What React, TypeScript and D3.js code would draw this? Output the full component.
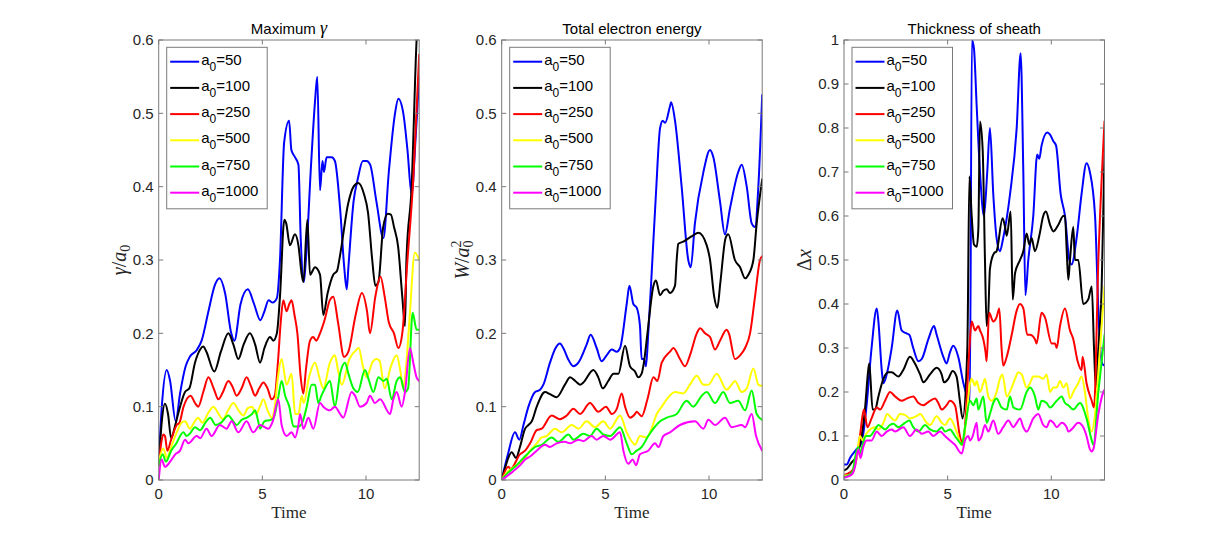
import React from 'react';
import * as d3 from 'd3';

type Pt = [number, number];

// ---------- data ----------
const T_MAX = 12.566;
const X_TICKS = [0, 5, 10];
const Y_TICKS_06 = [0, 0.1, 0.2, 0.3, 0.4, 0.5, 0.6];
const Y_TICKS_1 = [0, 0.1, 0.2, 0.3, 0.4, 0.5, 0.6, 0.7, 0.8, 0.9, 1];
const A0_LABELS = ['50', '100', '250', '500', '750', '1000'];
const COLORS = ['#0000ff', '#000000', '#ff0000', '#ffff00', '#00ff00', '#ff00ff'];
const TITLES = ['Maximum ', 'Total electron energy', 'Thickness of sheath'];

// Panel 1: maximum gamma / a0
const gamma50: Pt[] = [[0,0.023],[0.15,0.1],[0.39,0.15],[0.55,0.135],[0.82,0.08],[1.03,0.118],[1.3,0.155],[1.5,0.168],[1.83,0.177],[2.07,0.19],[2.4,0.23],[2.7,0.265],[2.93,0.275],[3.2,0.255],[3.5,0.2],[3.65,0.19],[3.95,0.24],[4.3,0.26],[4.6,0.24],[4.9,0.218],[5.1,0.23],[5.3,0.245],[5.5,0.242],[5.7,0.248],[5.85,0.3],[6.05,0.46],[6.29,0.49],[6.4,0.45],[6.58,0.44],[6.74,0.43],[6.85,0.33],[7.0,0.27],[7.1,0.3],[7.35,0.43],[7.55,0.52],[7.65,0.55],[7.78,0.395],[7.9,0.435],[7.97,0.42],[8.1,0.44],[8.34,0.44],[8.5,0.435],[8.75,0.37],[8.95,0.29],[9.07,0.26],[9.15,0.29],[9.4,0.38],[9.6,0.41],[9.85,0.435],[10.03,0.435],[10.2,0.43],[10.5,0.38],[10.84,0.33],[11.1,0.42],[11.4,0.5],[11.56,0.52],[11.8,0.5],[12.0,0.45],[12.2,0.39],[12.4,0.47],[12.566,0.55]];
const gamma100: Pt[] = [[0,0.02],[0.15,0.08],[0.3,0.104],[0.45,0.09],[0.6,0.057],[0.8,0.075],[1.03,0.1],[1.27,0.12],[1.48,0.125],[1.75,0.16],[2.0,0.178],[2.15,0.182],[2.3,0.175],[2.68,0.148],[3.0,0.175],[3.36,0.2],[3.6,0.185],[3.84,0.165],[4.1,0.185],[4.4,0.2],[4.65,0.185],[4.89,0.16],[5.1,0.18],[5.37,0.195],[5.53,0.19],[5.7,0.2],[5.85,0.25],[6.06,0.355],[6.15,0.35],[6.33,0.32],[6.57,0.335],[6.74,0.32],[6.9,0.28],[6.98,0.27],[7.17,0.355],[7.3,0.28],[7.54,0.29],[7.78,0.28],[7.94,0.225],[8.15,0.255],[8.42,0.28],[8.6,0.285],[8.74,0.305],[9.14,0.377],[9.4,0.4],[9.63,0.405],[9.9,0.39],[10.1,0.364],[10.3,0.3],[10.45,0.265],[10.6,0.27],[10.83,0.345],[11.05,0.363],[11.2,0.362],[11.35,0.345],[11.55,0.318],[11.75,0.25],[11.88,0.21],[11.95,0.3],[12.2,0.4],[12.44,0.6],[12.566,0.66]];
const gamma250: Pt[] = [[0,0.02],[0.12,0.05],[0.22,0.062],[0.3,0.06],[0.42,0.04],[0.6,0.055],[0.87,0.075],[1.0,0.078],[1.2,0.1],[1.54,0.115],[1.75,0.105],[1.91,0.1],[2.15,0.12],[2.4,0.14],[2.65,0.125],[2.88,0.11],[3.1,0.12],[3.36,0.135],[3.55,0.128],[3.76,0.115],[4.0,0.125],[4.24,0.14],[4.45,0.128],[4.65,0.115],[4.85,0.125],[5.05,0.133],[5.25,0.125],[5.45,0.11],[5.6,0.115],[5.75,0.16],[5.9,0.22],[6.01,0.245],[6.17,0.23],[6.3,0.24],[6.41,0.245],[6.55,0.225],[6.69,0.2],[6.85,0.14],[6.98,0.118],[7.1,0.15],[7.3,0.19],[7.45,0.195],[7.6,0.19],[7.78,0.2],[8.02,0.22],[8.25,0.245],[8.42,0.25],[8.65,0.215],[8.94,0.168],[9.15,0.175],[9.5,0.225],[9.8,0.255],[10.05,0.23],[10.19,0.2],[10.45,0.25],[10.7,0.277],[10.9,0.25],[11.1,0.215],[11.35,0.2],[11.56,0.18],[11.75,0.2],[12.0,0.3],[12.28,0.41],[12.566,0.58]];
const gamma500: Pt[] = [[0,0.025],[0.22,0.043],[0.4,0.03],[0.6,0.045],[0.87,0.065],[1.1,0.078],[1.27,0.08],[1.5,0.07],[1.7,0.078],[1.9,0.085],[2.1,0.078],[2.4,0.092],[2.64,0.1],[2.85,0.092],[3.1,0.083],[3.35,0.095],[3.6,0.105],[3.85,0.095],[4.08,0.088],[4.3,0.098],[4.5,0.1],[4.7,0.09],[4.88,0.1],[5.05,0.11],[5.25,0.095],[5.45,0.085],[5.6,0.1],[5.75,0.14],[5.93,0.165],[6.17,0.13],[6.41,0.145],[6.58,0.09],[6.74,0.09],[6.9,0.115],[7.0,0.105],[7.25,0.14],[7.54,0.16],[7.75,0.14],[7.94,0.125],[8.26,0.16],[8.5,0.17],[8.65,0.15],[8.83,0.13],[9.2,0.165],[9.55,0.178],[9.65,0.18],[9.85,0.155],[10.03,0.14],[10.3,0.16],[10.5,0.165],[10.65,0.163],[10.9,0.125],[11.2,0.155],[11.48,0.17],[11.65,0.15],[11.8,0.125],[11.95,0.16],[12.1,0.22],[12.36,0.31],[12.566,0.3]];
const gamma750: Pt[] = [[0,0.02],[0.19,0.035],[0.35,0.025],[0.6,0.04],[0.85,0.05],[1.19,0.065],[1.35,0.06],[1.55,0.065],[1.75,0.072],[2.0,0.068],[2.25,0.078],[2.48,0.085],[2.75,0.075],[3.0,0.078],[3.36,0.088],[3.55,0.082],[3.76,0.075],[4.0,0.082],[4.25,0.085],[4.5,0.09],[4.65,0.095],[4.8,0.08],[4.89,0.07],[5.1,0.08],[5.4,0.082],[5.55,0.085],[5.75,0.11],[5.93,0.135],[6.1,0.115],[6.3,0.1],[6.5,0.073],[6.75,0.073],[6.95,0.08],[7.14,0.1],[7.38,0.13],[7.54,0.13],[7.7,0.105],[7.85,0.115],[8.02,0.125],[8.26,0.135],[8.5,0.1],[8.75,0.145],[8.99,0.16],[9.15,0.145],[9.39,0.125],[9.6,0.12],[9.95,0.15],[10.15,0.135],[10.35,0.12],[10.6,0.14],[10.84,0.135],[11.0,0.138],[11.24,0.11],[11.48,0.135],[11.65,0.14],[11.88,0.12],[12.03,0.125],[12.25,0.228],[12.44,0.205],[12.566,0.205]];
const gamma1000: Pt[] = [[0,0.0],[0.14,0.028],[0.3,0.018],[0.55,0.025],[0.8,0.035],[1.03,0.04],[1.27,0.055],[1.43,0.05],[1.83,0.06],[2.0,0.057],[2.31,0.07],[2.55,0.06],[2.95,0.075],[3.27,0.07],[3.52,0.08],[3.84,0.065],[4.24,0.08],[4.56,0.065],[4.89,0.075],[5.29,0.07],[5.5,0.08],[5.77,0.11],[5.93,0.075],[6.17,0.06],[6.41,0.065],[6.58,0.058],[6.74,0.075],[6.82,0.09],[6.98,0.07],[7.22,0.085],[7.46,0.07],[7.78,0.105],[7.94,0.1],[8.26,0.095],[8.5,0.1],[8.75,0.09],[8.9,0.085],[9.31,0.12],[9.47,0.115],[9.71,0.1],[10.03,0.105],[10.19,0.115],[10.43,0.105],[10.68,0.11],[11.16,0.09],[11.32,0.11],[11.48,0.12],[11.72,0.1],[11.88,0.12],[12.12,0.18],[12.28,0.16],[12.44,0.14],[12.566,0.135]];

// Panel 2: total electron energy W / a0^2
const energy50: Pt[] = [[0,0],[0.3,0.035],[0.64,0.065],[0.85,0.055],[1.05,0.075],[1.29,0.1],[1.61,0.12],[1.85,0.123],[2.01,0.13],[2.33,0.16],[2.6,0.18],[2.81,0.186],[2.97,0.18],[3.2,0.165],[3.46,0.155],[3.7,0.16],[4.1,0.185],[4.29,0.198],[4.58,0.18],[4.82,0.162],[5.06,0.17],[5.31,0.178],[5.55,0.175],[5.71,0.18],[6.03,0.24],[6.16,0.265],[6.35,0.24],[6.51,0.235],[6.67,0.21],[6.75,0.165],[6.86,0.165],[6.96,0.155],[7.07,0.2],[7.23,0.28],[7.44,0.39],[7.64,0.48],[7.77,0.49],[7.88,0.487],[8.12,0.51],[8.17,0.515],[8.36,0.49],[8.68,0.4],[9.0,0.3],[9.12,0.29],[9.32,0.35],[9.73,0.42],[10.05,0.45],[10.21,0.44],[10.53,0.38],[10.77,0.335],[11.01,0.37],[11.41,0.42],[11.58,0.43],[11.82,0.4],[12.06,0.35],[12.22,0.345],[12.38,0.4],[12.566,0.525]];
const energy100: Pt[] = [[0,0],[0.2,0.02],[0.48,0.038],[0.69,0.03],[0.88,0.045],[1.13,0.07],[1.29,0.075],[1.45,0.08],[1.69,0.1],[2.09,0.12],[2.33,0.117],[2.65,0.113],[3.05,0.13],[3.3,0.14],[3.55,0.135],[3.78,0.13],[3.94,0.133],[4.42,0.15],[4.66,0.14],[4.87,0.125],[5.14,0.135],[5.39,0.145],[5.63,0.145],[5.95,0.183],[6.19,0.155],[6.43,0.148],[6.59,0.14],[6.75,0.145],[6.86,0.16],[7.03,0.2],[7.32,0.265],[7.44,0.272],[7.64,0.252],[7.8,0.258],[7.96,0.26],[8.12,0.255],[8.36,0.265],[8.44,0.3],[8.52,0.322],[8.76,0.325],[9.2,0.333],[9.49,0.337],[9.89,0.32],[10.05,0.3],[10.25,0.25],[10.4,0.235],[10.55,0.27],[10.8,0.33],[10.93,0.335],[11.25,0.3],[11.5,0.29],[11.74,0.275],[11.9,0.28],[12.14,0.3],[12.3,0.35],[12.566,0.41]];
const energy250: Pt[] = [[0,0],[0.32,0.018],[0.43,0.015],[0.88,0.035],[1.13,0.04],[1.37,0.05],[1.69,0.068],[1.93,0.07],[2.41,0.088],[2.81,0.083],[3.14,0.088],[3.46,0.097],[3.78,0.09],[4.26,0.105],[4.66,0.093],[5.03,0.1],[5.31,0.09],[5.55,0.097],[5.79,0.118],[5.95,0.1],[6.19,0.085],[6.43,0.09],[6.51,0.093],[6.75,0.087],[7.03,0.11],[7.32,0.14],[7.51,0.135],[7.72,0.16],[8.12,0.175],[8.28,0.18],[8.6,0.165],[8.84,0.155],[9.08,0.17],[9.41,0.2],[9.57,0.207],[9.81,0.2],[10.05,0.195],[10.29,0.178],[10.53,0.19],[10.85,0.205],[10.96,0.2],[11.25,0.165],[11.5,0.17],[11.74,0.18],[11.98,0.2],[12.22,0.25],[12.46,0.3],[12.566,0.305]];
const energy500: Pt[] = [[0,0],[0.24,0.01],[0.72,0.02],[1.13,0.03],[1.37,0.04],[1.69,0.05],[1.93,0.058],[2.17,0.06],[2.57,0.07],[2.89,0.065],[3.38,0.075],[3.7,0.07],[4.1,0.08],[4.5,0.072],[4.9,0.08],[5.23,0.07],[5.71,0.088],[6.03,0.065],[6.35,0.05],[6.43,0.048],[6.67,0.06],[6.99,0.058],[7.23,0.07],[7.48,0.09],[7.72,0.1],[7.96,0.11],[8.36,0.12],[8.76,0.118],[9.08,0.13],[9.41,0.142],[9.73,0.13],[9.97,0.13],[10.37,0.145],[10.85,0.123],[11.09,0.13],[11.25,0.135],[11.58,0.12],[11.82,0.125],[12.14,0.152],[12.38,0.13],[12.566,0.128]];
const energy750: Pt[] = [[0,0],[0.24,0.008],[0.64,0.018],[1.05,0.03],[1.29,0.037],[1.61,0.045],[1.93,0.048],[2.41,0.058],[2.73,0.052],[3.22,0.062],[3.46,0.055],[3.94,0.063],[4.26,0.06],[4.58,0.07],[4.9,0.062],[5.23,0.06],[5.71,0.072],[6.03,0.05],[6.27,0.035],[6.51,0.04],[6.75,0.045],[7.07,0.06],[7.32,0.07],[7.64,0.08],[7.96,0.085],[8.44,0.09],[8.92,0.108],[9.24,0.1],[9.65,0.115],[9.89,0.12],[10.29,0.105],[10.69,0.12],[11.01,0.105],[11.41,0.108],[11.74,0.095],[12.06,0.122],[12.3,0.09],[12.566,0.082]];
const energy1000: Pt[] = [[0,0],[0.24,0.005],[0.56,0.012],[0.88,0.02],[1.13,0.028],[1.37,0.032],[1.69,0.04],[2.09,0.048],[2.33,0.045],[2.65,0.05],[3.05,0.052],[3.3,0.05],[3.7,0.055],[3.94,0.053],[4.34,0.06],[4.58,0.055],[4.9,0.06],[5.23,0.055],[5.71,0.065],[5.87,0.04],[6.11,0.022],[6.32,0.028],[6.48,0.02],[6.67,0.035],[7.07,0.04],[7.4,0.05],[7.56,0.045],[7.8,0.06],[8.12,0.065],[8.6,0.075],[9.32,0.08],[9.73,0.07],[9.97,0.082],[10.29,0.075],[10.77,0.085],[11.09,0.072],[11.58,0.075],[11.74,0.072],[12.06,0.09],[12.27,0.06],[12.566,0.04]];

// Panel 3: thickness of sheath
const sheath50: Pt[] = [[0,0.035],[0.13,0.035],[0.29,0.05],[0.61,0.07],[0.85,0.085],[1.09,0.17],[1.33,0.3],[1.58,0.39],[1.66,0.36],[1.82,0.25],[1.9,0.22],[2.06,0.24],[2.3,0.3],[2.57,0.385],[2.78,0.34],[3.02,0.333],[3.15,0.33],[3.34,0.3],[3.59,0.27],[3.75,0.275],[4.07,0.32],[4.34,0.35],[4.47,0.33],[4.79,0.28],[4.95,0.265],[5.11,0.29],[5.27,0.305],[5.51,0.28],[5.76,0.22],[5.95,0.19],[6.07,0.18],[6.17,1.0],[6.27,0.98],[6.4,0.85],[6.56,0.7],[6.75,0.6],[6.91,0.7],[7.04,0.8],[7.2,0.65],[7.36,0.55],[7.52,0.52],[7.68,0.55],[8.01,0.65],[8.33,0.8],[8.52,0.97],[8.65,0.7],[8.75,0.42],[8.89,0.5],[9.13,0.6],[9.32,0.74],[9.42,0.73],[9.53,0.76],[9.81,0.79],[9.94,0.785],[10.1,0.77],[10.23,0.76],[10.45,0.65],[10.66,0.6],[10.87,0.5],[10.98,0.49],[11.22,0.55],[11.46,0.65],[11.7,0.72],[11.86,0.7],[12.11,0.6],[12.3,0.35],[12.45,0.265],[12.566,0.26]];
const sheath100: Pt[] = [[0,0.022],[0.13,0.025],[0.37,0.04],[0.61,0.055],[0.77,0.08],[0.85,0.1],[1.01,0.16],[1.17,0.25],[1.22,0.265],[1.38,0.16],[1.5,0.16],[1.66,0.19],[1.9,0.23],[2.14,0.245],[2.3,0.245],[2.62,0.235],[2.86,0.25],[3.18,0.28],[3.42,0.265],[3.67,0.24],[3.83,0.222],[4.15,0.24],[4.47,0.255],[4.71,0.24],[4.82,0.222],[5.03,0.23],[5.24,0.248],[5.43,0.235],[5.59,0.18],[5.72,0.14],[5.95,0.3],[6.05,0.69],[6.16,0.6],[6.27,0.535],[6.4,0.53],[6.48,0.57],[6.56,0.815],[6.69,0.75],[6.8,0.5],[6.88,0.35],[6.96,0.38],[7.04,0.48],[7.23,0.515],[7.36,0.52],[7.65,0.595],[7.77,0.575],[7.85,0.555],[8.04,0.61],[8.14,0.41],[8.25,0.47],[8.49,0.5],[8.65,0.52],[8.81,0.56],[8.94,0.535],[9.05,0.55],[9.21,0.52],[9.42,0.555],[9.61,0.6],[9.74,0.61],[9.94,0.58],[10.1,0.565],[10.34,0.58],[10.58,0.6],[10.66,0.6],[10.74,0.525],[10.82,0.455],[10.9,0.5],[11.06,0.575],[11.14,0.5],[11.3,0.5],[11.54,0.4],[11.78,0.41],[11.95,0.44],[12.06,0.3],[12.15,0.21],[12.27,0.3],[12.43,0.44],[12.566,0.74]];
const sheath250: Pt[] = [[0,0.012],[0.21,0.015],[0.45,0.025],[0.61,0.05],[0.77,0.1],[0.96,0.16],[1.13,0.12],[1.33,0.14],[1.58,0.165],[1.74,0.16],[1.98,0.18],[2.22,0.2],[2.46,0.19],[2.78,0.18],[3.02,0.185],[3.34,0.19],[3.59,0.175],[3.83,0.17],[4.15,0.18],[4.39,0.185],[4.55,0.175],[4.71,0.16],[4.95,0.17],[5.11,0.18],[5.35,0.17],[5.59,0.1],[5.72,0.08],[5.88,0.15],[6.05,0.3],[6.16,0.36],[6.32,0.34],[6.48,0.35],[6.56,0.34],[6.72,0.32],[6.83,0.29],[6.88,0.27],[7.0,0.38],[7.2,0.36],[7.36,0.37],[7.49,0.39],[7.6,0.3],[7.68,0.26],[7.85,0.28],[8.09,0.33],[8.33,0.385],[8.49,0.4],[8.65,0.39],[8.84,0.33],[8.97,0.33],[9.21,0.32],[9.29,0.31],[9.53,0.38],[9.69,0.37],[10.02,0.31],[10.18,0.31],[10.26,0.3],[10.42,0.35],[10.66,0.39],[10.9,0.34],[11.06,0.32],[11.27,0.27],[11.46,0.25],[11.51,0.28],[11.7,0.22],[11.95,0.18],[12.06,0.165],[12.27,0.5],[12.566,0.815]];
const sheath500: Pt[] = [[0,0.01],[0.21,0.01],[0.45,0.02],[0.61,0.05],[0.77,0.1],[0.9,0.09],[1.01,0.1],[1.25,0.115],[1.5,0.12],[1.66,0.115],[1.9,0.13],[2.09,0.15],[2.3,0.14],[2.46,0.135],[2.7,0.15],[2.94,0.148],[3.18,0.14],[3.5,0.145],[3.67,0.15],[3.99,0.13],[4.15,0.125],[4.47,0.145],[4.71,0.13],[4.87,0.125],[5.11,0.14],[5.43,0.11],[5.68,0.08],[5.88,0.13],[6.08,0.22],[6.16,0.23],[6.32,0.215],[6.4,0.225],[6.56,0.2],[6.72,0.22],[6.8,0.23],[6.96,0.19],[7.12,0.18],[7.36,0.2],[7.52,0.23],[7.64,0.24],[7.85,0.19],[8.09,0.21],[8.25,0.23],[8.41,0.245],[8.57,0.24],[8.81,0.21],[8.97,0.22],[9.13,0.235],[9.37,0.235],[9.61,0.23],[9.77,0.24],[9.94,0.2],[10.1,0.21],[10.26,0.21],[10.42,0.225],[10.58,0.21],[10.74,0.22],[10.9,0.185],[11.06,0.2],[11.3,0.22],[11.46,0.235],[11.62,0.2],[11.78,0.14],[11.95,0.11],[12.11,0.15],[12.35,0.3],[12.566,0.44]];
const sheath750: Pt[] = [[0,0.007],[0.21,0.01],[0.42,0.02],[0.53,0.05],[0.69,0.075],[0.77,0.06],[0.9,0.08],[1.06,0.1],[1.25,0.1],[1.5,0.115],[1.66,0.125],[1.82,0.12],[1.98,0.115],[2.22,0.125],[2.38,0.128],[2.62,0.12],[2.94,0.13],[3.15,0.135],[3.34,0.12],[3.59,0.11],[3.91,0.125],[4.15,0.115],[4.47,0.11],[4.71,0.12],[4.87,0.11],[5.11,0.115],[5.35,0.1],[5.59,0.085],[5.68,0.08],[5.84,0.12],[6.08,0.18],[6.24,0.17],[6.4,0.185],[6.48,0.16],[6.72,0.19],[6.88,0.13],[7.04,0.15],[7.2,0.175],[7.36,0.185],[7.6,0.165],[7.85,0.16],[8.01,0.19],[8.17,0.165],[8.49,0.16],[8.81,0.2],[8.97,0.21],[9.21,0.19],[9.37,0.16],[9.53,0.18],[9.77,0.175],[9.94,0.165],[10.26,0.18],[10.5,0.19],[10.66,0.175],[10.82,0.17],[11.06,0.16],[11.38,0.175],[11.7,0.14],[11.95,0.09],[12.03,0.08],[12.27,0.2],[12.43,0.27],[12.566,0.33]];
const sheath1000: Pt[] = [[0,0.005],[0.21,0.008],[0.42,0.015],[0.53,0.03],[0.69,0.07],[0.8,0.05],[0.93,0.075],[1.09,0.09],[1.33,0.09],[1.58,0.11],[1.82,0.1],[2.06,0.11],[2.3,0.115],[2.46,0.11],[2.86,0.12],[3.18,0.1],[3.5,0.115],[3.75,0.105],[4.07,0.11],[4.31,0.1],[4.63,0.11],[4.87,0.1],[5.11,0.09],[5.35,0.08],[5.68,0.06],[5.84,0.09],[6.0,0.1],[6.08,0.09],[6.21,0.1],[6.4,0.13],[6.48,0.09],[6.64,0.1],[6.8,0.125],[6.96,0.11],[7.2,0.135],[7.44,0.105],[7.68,0.12],[7.93,0.135],[8.17,0.12],[8.33,0.13],[8.49,0.14],[8.65,0.12],[8.81,0.11],[9.13,0.14],[9.37,0.15],[9.61,0.125],[9.77,0.12],[9.94,0.135],[10.1,0.13],[10.26,0.12],[10.5,0.13],[10.74,0.12],[10.82,0.11],[10.98,0.115],[11.3,0.13],[11.54,0.12],[11.7,0.1],[11.86,0.07],[11.95,0.065],[12.03,0.07],[12.27,0.15],[12.51,0.2],[12.566,0.205]];

const GAMMA_SERIES = [gamma50, gamma100, gamma250, gamma500, gamma750, gamma1000];
const ENERGY_SERIES = [energy50, energy100, energy250, energy500, energy750, energy1000];
const SHEATH_SERIES = [sheath50, sheath100, sheath250, sheath500, sheath750, sheath1000];

// ---------- layout ----------
const W = 1221;
const H = 540;
const PANEL_LEFTS = [158.7, 501.7, 844];
const PANEL_W = 260.5;
const TOP = 40;
const PANEL_H = 440;
const SANS = "'Liberation Sans', Arial, Helvetica, sans-serif";
const SERIF = "'Liberation Serif', 'Times New Roman', serif";
const AXIS_COLOR = '#7a7a7a';
const TEXT_COLOR = '#262626';
const TICK_LEN = 4.5;

function fmt(v: number): string {
  return String(+v.toFixed(1));
}

function YLabel({ idx, x, y }: { idx: number; x: number; y: number }) {
  const common = {
    transform: `translate(${x},${y}) rotate(-90)`,
    textAnchor: 'middle' as const,
    fontFamily: SERIF,
    fontSize: 20,
    fill: TEXT_COLOR,
  };
  if (idx === 0) {
    return (
      <text {...common}>
        <tspan fontStyle="italic">γ</tspan>
        <tspan>/</tspan>
        <tspan fontStyle="italic">a</tspan>
        <tspan fontSize={14} dy={4}>0</tspan>
      </text>
    );
  }
  if (idx === 1) {
    return (
      <text {...common}>
        <tspan fontStyle="italic">W</tspan>
        <tspan>/</tspan>
        <tspan fontStyle="italic">a</tspan>
        <tspan fontSize={14} dy={4}>0</tspan>
        <tspan fontSize={14} dx={-7} dy={-12}>2</tspan>
      </text>
    );
  }
  return (
    <text {...common}>
      <tspan>Δ</tspan>
      <tspan fontStyle="italic">x</tspan>
    </text>
  );
}

function Panel({ idx, series, yMax, yTicks }: { idx: number; series: Pt[][]; yMax: number; yTicks: number[] }) {
  const left = PANEL_LEFTS[idx];
  const right = left + PANEL_W;
  const bottom = TOP + PANEL_H;
  const x = d3.scaleLinear().domain([0, T_MAX]).range([left, right]);
  const y = d3.scaleLinear().domain([0, yMax]).range([bottom, TOP]);
  const line = d3
    .line<Pt>()
    .x((d) => x(d[0]))
    .y((d) => y(d[1]))
    .curve(d3.curveMonotoneX);
  const clipId = `clip-${idx}`;
  const cx = (left + right) / 2;

  const legX = left + 8;
  const legY = 47.3;
  const legW = 100.5;
  const legH = 161.5;
  const rowY0 = 61.7;
  const rowDy = 26.2;

  return (
    <g>
      <defs>
        <clipPath id={clipId}>
          <rect x={left} y={TOP} width={PANEL_W} height={PANEL_H} />
        </clipPath>
      </defs>
      <rect x={left} y={TOP} width={PANEL_W} height={PANEL_H} fill="#ffffff" />
      <g clipPath={`url(#${clipId})`}>
        {series.map((s, i) => (
          <path
            key={i}
            d={line(s) || ''}
            fill="none"
            stroke={COLORS[i]}
            strokeWidth={2}
            strokeLinejoin="round"
            strokeLinecap="round"
          />
        ))}
      </g>
      <rect x={left} y={TOP} width={PANEL_W} height={PANEL_H} fill="none" stroke={AXIS_COLOR} strokeWidth={1} />
      {X_TICKS.map((t) => (
        <g key={`xt${t}`}>
          <line x1={x(t)} x2={x(t)} y1={bottom} y2={bottom - TICK_LEN} stroke={AXIS_COLOR} />
          <line x1={x(t)} x2={x(t)} y1={TOP} y2={TOP + TICK_LEN} stroke={AXIS_COLOR} />
          <text x={x(t)} y={bottom + 19} textAnchor="middle" fontFamily={SANS} fontSize={15} fill={TEXT_COLOR}>
            {fmt(t)}
          </text>
        </g>
      ))}
      {yTicks.map((v) => (
        <g key={`yt${v}`}>
          <line x1={left} x2={left + TICK_LEN} y1={y(v)} y2={y(v)} stroke={AXIS_COLOR} />
          <line x1={right} x2={right - TICK_LEN} y1={y(v)} y2={y(v)} stroke={AXIS_COLOR} />
          <text x={left - 5} y={y(v) + 5.3} textAnchor="end" fontFamily={SANS} fontSize={15} fill={TEXT_COLOR}>
            {fmt(v)}
          </text>
        </g>
      ))}
      <text x={cx} y={34} textAnchor="middle" fontFamily={SANS} fontSize={15} fill="#000000">
        {TITLES[idx]}
        {idx === 0 ? <tspan fontFamily={SERIF} fontStyle="italic" fontSize={18}>γ</tspan> : null}
      </text>
      <text x={cx} y={518} textAnchor="middle" fontFamily={SERIF} fontSize={17} fill={TEXT_COLOR}>
        Time
      </text>
      <YLabel idx={idx} x={left - 33} y={TOP + PANEL_H / 2} />
      <rect x={legX} y={legY} width={legW} height={legH} fill="#ffffff" stroke={AXIS_COLOR} strokeWidth={1} />
      {A0_LABELS.map((lab, i) => {
        const ry = rowY0 + i * rowDy;
        return (
          <g key={`lg${i}`}>
            <line x1={legX + 3.5} x2={legX + 32.5} y1={ry} y2={ry} stroke={COLORS[i]} strokeWidth={2} />
            <text x={legX + 34.5} y={ry + 3} fontFamily={SANS} fontSize={15} fill="#000000">
              a
              <tspan fontSize={12} dy={6}>0</tspan>
              <tspan dy={-6}>={lab}</tspan>
            </text>
          </g>
        );
      })}
    </g>
  );
}

export default function App() {
  return (
    <svg
      width={W}
      height={H}
      viewBox={`0 0 ${W} ${H}`}
      style={{ position: 'absolute', left: 0, top: 0, background: '#ffffff' }}
    >
      <rect x={0} y={0} width={W} height={H} fill="#ffffff" />
      <Panel idx={0} series={GAMMA_SERIES} yMax={0.6} yTicks={Y_TICKS_06} />
      <Panel idx={1} series={ENERGY_SERIES} yMax={0.6} yTicks={Y_TICKS_06} />
      <Panel idx={2} series={SHEATH_SERIES} yMax={1} yTicks={Y_TICKS_1} />
    </svg>
  );
}
